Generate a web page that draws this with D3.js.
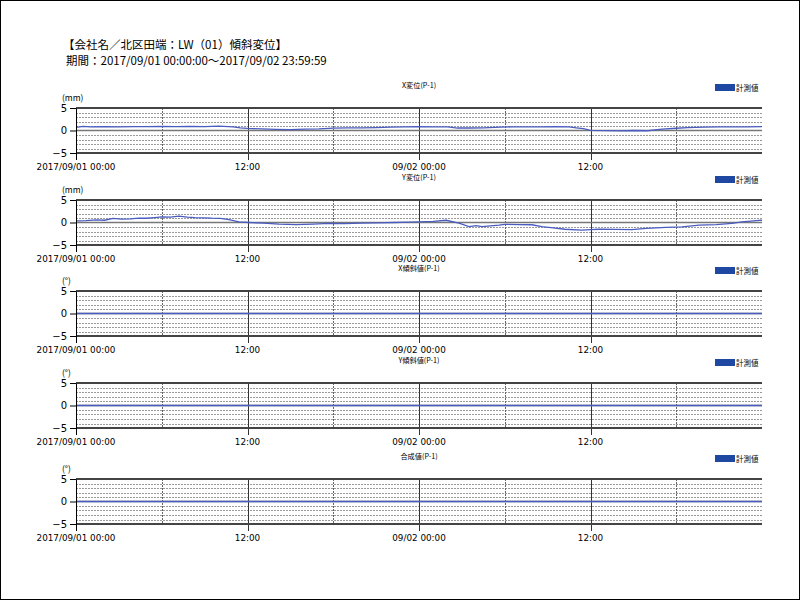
<!DOCTYPE html>
<html>
<head>
<meta charset="utf-8">
<script src="https://cdn.jsdelivr.net/npm/d3@7"></script>
<style>
  body { margin: 0; background: #fff; }
  svg { display: block; }
</style>
</head>
<body>
<div id="chart"></div>
<script>
// header texts
var titleText = "【会社名／北区田端：LW（01）傾斜変位】"
var periodText = "期間：2017/09/01 00:00:00～2017/09/02 23:59:59"

// panels
var panelTitles = ["X変位(P-1)", "Y変位(P-1)", "X傾斜値(P-1)", "Y傾斜値(P-1)", "合成値(P-1)"]
var panelUnits = ["(mm)", "(mm)", "(°)", "(°)", "(°)"]
var legendLabel = "計測値"

// x ticks (hours from 2017/09/01 00:00) and their labels
var tickHours = [0, 12, 24, 36]
var tickLabels = ["2017/09/01 00:00", "12:00", "09/02 00:00", "12:00"]
var minorHours = [6, 18, 30, 42]
var yTicks = [5, 0, -5]
var yGrid = [4, 3, 2, 1, -1, -2, -3, -4]

// X変位
var hoursX = [0, 0.5, 1, 2, 3, 4, 5, 6, 7, 8, 9, 10, 11, 11.5, 12, 13, 14, 15, 16, 17, 18, 19, 20, 21, 22, 23, 24, 25, 26, 26.7, 27.5, 28.5, 29.7, 30.5, 31.5, 32.5, 33.5, 34.5, 35, 35.5, 36, 37, 38, 39, 40, 41, 42, 42.8, 44, 45, 46, 47, 48]
var valuesX = [0.7, 0.9, 0.8, 0.85, 0.8, 0.85, 0.85, 0.9, 0.85, 0.9, 0.85, 0.95, 0.8, 0.6, 0.45, 0.35, 0.25, 0.2, 0.3, 0.35, 0.55, 0.6, 0.6, 0.65, 0.75, 0.8, 0.85, 0.8, 0.8, 0.55, 0.55, 0.6, 0.75, 0.8, 0.8, 0.8, 0.85, 0.8, 0.6, 0.4, 0.05, -0.05, -0.1, 0.0, -0.05, 0.3, 0.5, 0.65, 0.75, 0.8, 0.8, 0.8, 0.85]

// Y変位
var hoursY = [0, 0.7, 1.4, 2, 2.6, 3.2, 3.8, 4.4, 4.9, 5.5, 6, 6.6, 7.2, 7.8, 8.3, 8.9, 9.5, 10.1, 10.7, 11.4, 12.1, 13.1, 14.2, 15.4, 16.6, 17.7, 18.8, 20, 21.1, 22.3, 23.3, 24, 25, 25.9, 26.8, 27.5, 28, 28.4, 29, 29.6, 30, 31, 31.9, 32.6, 33.4, 34.2, 35.4, 36, 36.6, 37.7, 38.9, 39.9, 41.3, 42.4, 43.6, 44.8, 45.9, 46.6, 47.2, 47.8, 48]
var valuesY = [0.35, 0.4, 0.6, 0.5, 0.9, 0.75, 0.8, 0.95, 0.95, 1.1, 1.25, 1.2, 1.4, 1.2, 1.1, 1.05, 0.95, 0.9, 0.65, 0.15, 0.0, -0.15, -0.35, -0.45, -0.35, -0.2, -0.25, -0.15, -0.1, 0.0, 0.07, 0.15, 0.25, 0.5, -0.15, -0.9, -0.7, -0.9, -0.75, -0.6, -0.4, -0.45, -0.5, -0.9, -1.2, -1.5, -1.7, -1.6, -1.5, -1.55, -1.6, -1.3, -1.1, -0.95, -0.6, -0.45, -0.2, 0.15, 0.3, 0.45, 0.5]

// 傾斜値・合成値 (flat at 0)
var hoursFlat = [0, 48]
var valuesFlat = [0, 0]

var seriesHours = [hoursX, hoursY, hoursFlat, hoursFlat, hoursFlat]
var seriesValues = [valuesX, valuesY, valuesFlat, valuesFlat, valuesFlat]

var width = 800, height = 600
var left = 76, right = 762, plotH = 45
var tops = [108, 200, 291, 383, 479]

var svg = d3.select("#chart")
  .append("svg")
    .attr("width", width)
    .attr("height", height)
    .style("font-family", "'Noto Sans CJK JP', 'DejaVu Sans', sans-serif")

// page frame
svg.append("rect")
  .attr("x", 0.5).attr("y", 0.5)
  .attr("width", width - 1).attr("height", height - 1)
  .attr("fill", "none").attr("stroke", "#000")

svg.append("text")
  .attr("x", 63).attr("y", 49)
  .style("font-size", "11.5px")
  .text(titleText)
svg.append("text")
  .attr("x", 66).attr("y", 65)
  .style("font-size", "11.5px")
  .text(periodText)

var t0 = new Date(2017, 8, 1, 0, 0, 0)
var t1 = new Date(2017, 8, 2, 23, 59, 59)
var x = d3.scaleTime().domain([t0, t1]).range([left, right])
function hourDate(h) { return new Date(t0.getTime() + h * 3600 * 1000) }

panelTitles.forEach(function(title, i) {
  var top = tops[i]
  var y = d3.scaleLinear().domain([-5, 5]).range([top + plotH, top])
  var g = svg.append("g")

  // panel title
  g.append("text")
    .attr("x", (left + right) / 2).attr("y", top - 20)
    .attr("text-anchor", "middle")
    .style("font-size", "7.2px")
    .text(title)

  // legend
  g.append("rect")
    .attr("x", 715).attr("y", top - 24)
    .attr("width", 20).attr("height", 7)
    .attr("fill", "#1f48a3")
  g.append("text")
    .attr("x", 736).attr("y", top - 17.5)
    .style("font-size", "7.5px")
    .text(legendLabel)

  // unit
  g.append("text")
    .attr("x", 62).attr("y", top - 7)
    .style("font-size", "8.5px")
    .text(panelUnits[i])

  // dashed horizontal grid
  g.selectAll(".hgrid")
    .data(yGrid)
    .enter().append("line")
      .attr("x1", left).attr("x2", right)
      .attr("y1", function(d) { return Math.round(y(d)) + 0.5 })
      .attr("y2", function(d) { return Math.round(y(d)) + 0.5 })
      .attr("stroke", "#9a9a9a")
      .attr("stroke-dasharray", "2,1")

  // dashed vertical grid at 6h / 18h
  g.selectAll(".vminor")
    .data(minorHours)
    .enter().append("line")
      .attr("x1", function(d) { return Math.round(x(hourDate(d))) + 0.5 })
      .attr("x2", function(d) { return Math.round(x(hourDate(d))) + 0.5 })
      .attr("y1", top).attr("y2", top + plotH)
      .attr("stroke", "#666")
      .attr("stroke-dasharray", "2,1")

  // solid vertical lines + ticks at 12h
  g.selectAll(".vmajor")
    .data(tickHours.slice(1))
    .enter().append("line")
      .attr("x1", function(d) { return Math.round(x(hourDate(d))) + 0.5 })
      .attr("x2", function(d) { return Math.round(x(hourDate(d))) + 0.5 })
      .attr("y1", top).attr("y2", top + plotH + 7)
      .attr("stroke", "#333")

  // zero line
  g.append("line")
    .attr("x1", left).attr("x2", right)
    .attr("y1", y(0)).attr("y2", y(0))
    .attr("stroke", "#777").attr("stroke-width", 1.3)

  // top / bottom frame
  g.selectAll(".frame")
    .data([5, -5])
    .enter().append("line")
      .attr("x1", left).attr("x2", right)
      .attr("y1", function(d) { return y(d) })
      .attr("y2", function(d) { return y(d) })
      .attr("stroke", "#444").attr("stroke-width", 2)

  // data line
  var pts = seriesHours[i].map(function(h, k) { return [h, seriesValues[i][k]] })
  var line = d3.line()
    .x(function(d) { return x(hourDate(d[0])) })
    .y(function(d) { return y(d[1]) })
  g.append("path")
    .datum(pts)
    .attr("d", line)
    .attr("fill", "none")
    .attr("stroke", "#4a5cc0")
    .attr("stroke-width", 1.3)

  // left axis
  var yAxis = g.append("g")
    .attr("transform", "translate(" + left + ",0)")
    .call(d3.axisLeft(y).tickValues(yTicks).tickSize(6).tickSizeOuter(0).tickFormat(d3.format("d")))
  yAxis.select(".domain").attr("stroke", "#000")
  yAxis.selectAll("text").style("font-size", "10px").attr("fill", "#000")
    .style("font-family", "'DejaVu Sans', sans-serif")
  yAxis.selectAll("line").attr("stroke", "#000")

  // left axis extension + first tick downward
  g.append("line")
    .attr("x1", left + 0.5).attr("x2", left + 0.5)
    .attr("y1", top + plotH).attr("y2", top + plotH + 7)
    .attr("stroke", "#000")

  // x tick labels
  g.selectAll(".xlab")
    .data(tickHours)
    .enter().append("text")
      .attr("x", function(d) { return x(hourDate(d)) })
      .attr("y", top + plotH + 16.5)
      .attr("text-anchor", "middle")
      .style("font-size", "8.8px")
      .style("font-family", "'DejaVu Sans', sans-serif")
      .text(function(d, k) { return tickLabels[k] })
})
</script>
</body>
</html>
